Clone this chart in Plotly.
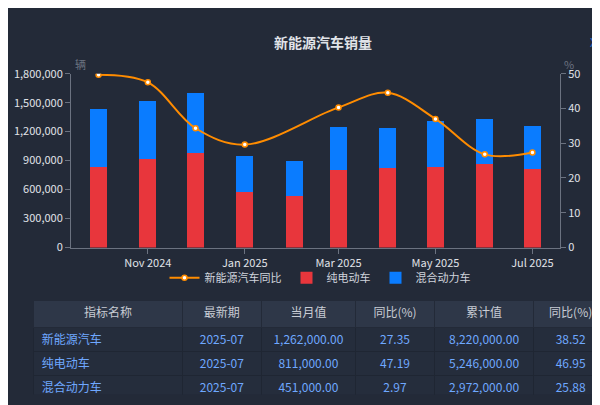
import plotly.graph_objects as go

months = ["2024-10","2024-11","2024-12","2025-01","2025-02","2025-03","2025-04","2025-05","2025-06","2025-07"]
bev = [835000, 915000, 975000, 577000, 537000, 805000, 825000, 835000, 865000, 811000]
total = [1432000, 1520000, 1600000, 945000, 895000, 1243000, 1233000, 1310000, 1330000, 1262000]
phev = [t - b for t, b in zip(total, bev)]
yoy = [49.7, 47.5, 34.3, 29.6, None, 40.3, 44.5, 37.0, 26.8, 27.35]

tbl_head = ["指标名称", "最新期", "当月值", "同比(%)", "累计值", "同比(%)"]
tbl_cols = [
    ["新能源汽车", "纯电动车", "混合动力车"],
    ["2025-07", "2025-07", "2025-07"],
    ["1,262,000.00", "811,000.00", "451,000.00"],
    ["27.35", "47.19", "2.97"],
    ["8,220,000.00", "5,246,000.00", "2,972,000.00"],
    ["38.52", "46.95", "25.88"],
]

FONT = "Noto Sans CJK SC"
fig = go.Figure()
fig.add_trace(go.Scatter(x=months, y=yoy, name="新能源汽车同比", yaxis="y2", mode="lines+markers",
                         line=dict(color="#ff8c00", width=2, shape="spline"), connectgaps=True,
                         marker=dict(color="white", size=5, line=dict(color="#ff8c00", width=1.5))))
fig.add_trace(go.Bar(x=months, y=bev, name="纯电动车", marker=dict(color="#e8363c", line_width=0)))
fig.add_trace(go.Bar(x=months, y=phev, name="混合动力车", marker=dict(color="#0a7cff", line_width=0)))
fig.add_trace(go.Table(
    domain=dict(x=[0.043, 1.0], y=[0.03, 0.272]),
    columnwidth=[150, 80, 95, 80, 100, 75],
    header=dict(values=tbl_head, fill_color="#2e3748", line_color="#232a38", height=27,
                font=dict(color="#c8ccd4", size=12, family=FONT), align="center"),
    cells=dict(values=tbl_cols, fill_color="#252d3c", line_color="#1f2633", height=24,
               font=dict(color="#6fa8ff", size=12, family=FONT),
               align=["left", "center", "center", "center", "center", "center"]),
))
fig.update_layout(
    width=600, height=405, margin=dict(l=0, r=0, t=0, b=0),
    paper_bgcolor="#232a38", plot_bgcolor="#232a38",
    barmode="stack", bargap=0.62, font=dict(family=FONT, color="#d0d4dc", size=11),
    title=dict(text="<b>新能源汽车销量</b>", x=0.525, y=0.925, xanchor="center",
               font=dict(size=14, color="#e0e3e8")),
    xaxis=dict(domain=[0.105, 0.92], showgrid=False, showline=True, linecolor="#6b7280",
               ticks="outside", tickcolor="#6b7280", tickfont=dict(size=11, color="#e0e3e8")),
    yaxis=dict(domain=[0.4074, 0.8543], range=[0, 1800000], tickvals=[0,300000,600000,900000,1200000,1500000,1800000],
               tickformat=",", showgrid=False, showline=True, linecolor="#6b7280", ticks="outside",
               tickcolor="#6b7280", tickfont=dict(size=11, color="#e0e3e8"), zeroline=False),
    yaxis2=dict(overlaying="y", side="right", range=[0, 50], dtick=10, showgrid=False, showline=True,
                linecolor="#6b7280", ticks="outside", tickcolor="#6b7280",
                tickfont=dict(size=11, color="#e0e3e8"), zeroline=False),
    legend=dict(orientation="h", x=0.52, xanchor="center", y=0.33, yanchor="middle",
                font=dict(size=11, color="#d0d4dc"), traceorder="normal", bgcolor="rgba(0,0,0,0)"),
    annotations=[
        dict(text="辆", x=0.108, y=0.905, xref="paper", yref="paper", showarrow=False,
             font=dict(size=11, color="#6b7280")),
        dict(text="%", x=0.947, y=0.905, xref="paper", yref="paper", showarrow=False,
             font=dict(size=11, color="#6b7280")),
        dict(text="X", x=0.985, y=0.965, xref="paper", yref="paper", showarrow=False,
             font=dict(size=12, color="#1f6fd0")),
    ],
)
fig.write_html("out.html")
